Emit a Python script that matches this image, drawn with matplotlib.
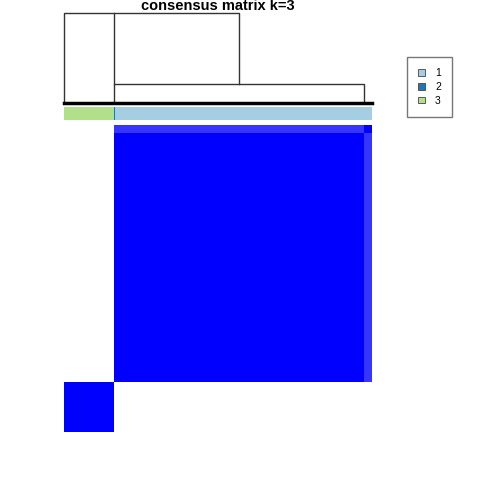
import matplotlib
matplotlib.use("Agg")
import matplotlib.pyplot as plt, numpy as np
from matplotlib.colors import LinearSegmentedColormap, ListedColormap
from matplotlib.patches import Patch

plt.rcParams['font.family'] = ['Liberation Sans', 'DejaVu Sans']

# samples in plotting order: (cluster, count)
group_clusters = [3, 2, 1, 1]
group_sizes = [49, 1, 242, 8]
# consensus between groups (same order as above)
group_consensus = [
    [1.0, 0.0, 0.0, 0.0],
    [0.0, 1.0, 1.0, 0.79],
    [0.0, 1.0, 1.0, 0.79],
    [0.0, 0.79, 0.79, 1.0],
]
cluster_names = ['1', '2', '3']
cluster_colors = ['#A6CEE3', '#1F78B4', '#B2DF8A']

# dendrogram: start positions of the branches and merge heights
branch_starts = [0, 49, 292]
merge_heights = [1.0, 0.21]

labels = np.repeat(group_clusters, group_sizes)
grp = np.repeat(np.arange(len(group_sizes)), group_sizes)
cons = np.array(group_consensus)[grp][:, grp]
N = len(labels)

fig = plt.figure(figsize=(4.8, 4.8), dpi=100)
px = lambda x0, y0, x1, y1: [x0 / 480, 1 - y1 / 480, (x1 - x0) / 480, (y1 - y0) / 480]

# dendrogram
ad = fig.add_axes(px(64, 13, 372, 103))
lc = '#333333'
a, b, c = branch_starts
h1, h2 = merge_heights
mid = (b + c) / 2
ad.plot([b, b, c, c], [0, h2, h2, 0], color=lc, lw=1, clip_on=False)
ad.plot([a, a, mid, mid], [0, h1, h1, h2], color=lc, lw=1, clip_on=False)
ad.plot([b, b], [h2, h1], color=lc, lw=1, clip_on=False)
ad.plot([0, N], [0, 0], color='black', lw=2.5, clip_on=False)
ad.set_xlim(0, N)
ad.set_ylim(0, 1)
ad.axis('off')
ad.set_title('consensus matrix k=3', fontsize=10.5, fontweight='bold', pad=1)

# cluster colour bar
ac = fig.add_axes(px(64, 107, 372, 120))
ac.imshow(labels[None, :] - 1, aspect='auto', cmap=ListedColormap(cluster_colors),
          vmin=-0.5, vmax=2.5, interpolation='nearest', extent=(0, N, 0, 1))
ac.axis('off')

# consensus heatmap
ah = fig.add_axes(px(64, 125, 372, 432))
ah.imshow(cons, origin='lower', aspect='auto', vmin=0, vmax=1,
          cmap=LinearSegmentedColormap.from_list('wb', ['white', 'blue']),
          interpolation='nearest', extent=(0, N, 0, N))
ah.axis('off')

handles = [Patch(facecolor=col, edgecolor='#444444', lw=0.6) for col in cluster_colors]
fig.legend(handles, cluster_names, loc='upper left', bbox_to_anchor=(407 / 480, 1 - 57 / 480),
           fontsize=7.5, frameon=True, fancybox=False, edgecolor='#555555',
           handlelength=0.6, handleheight=0.6, labelspacing=0.35, borderpad=1.1,
           handletextpad=1.0, borderaxespad=0)

fig.savefig('out.png', dpi=100)
